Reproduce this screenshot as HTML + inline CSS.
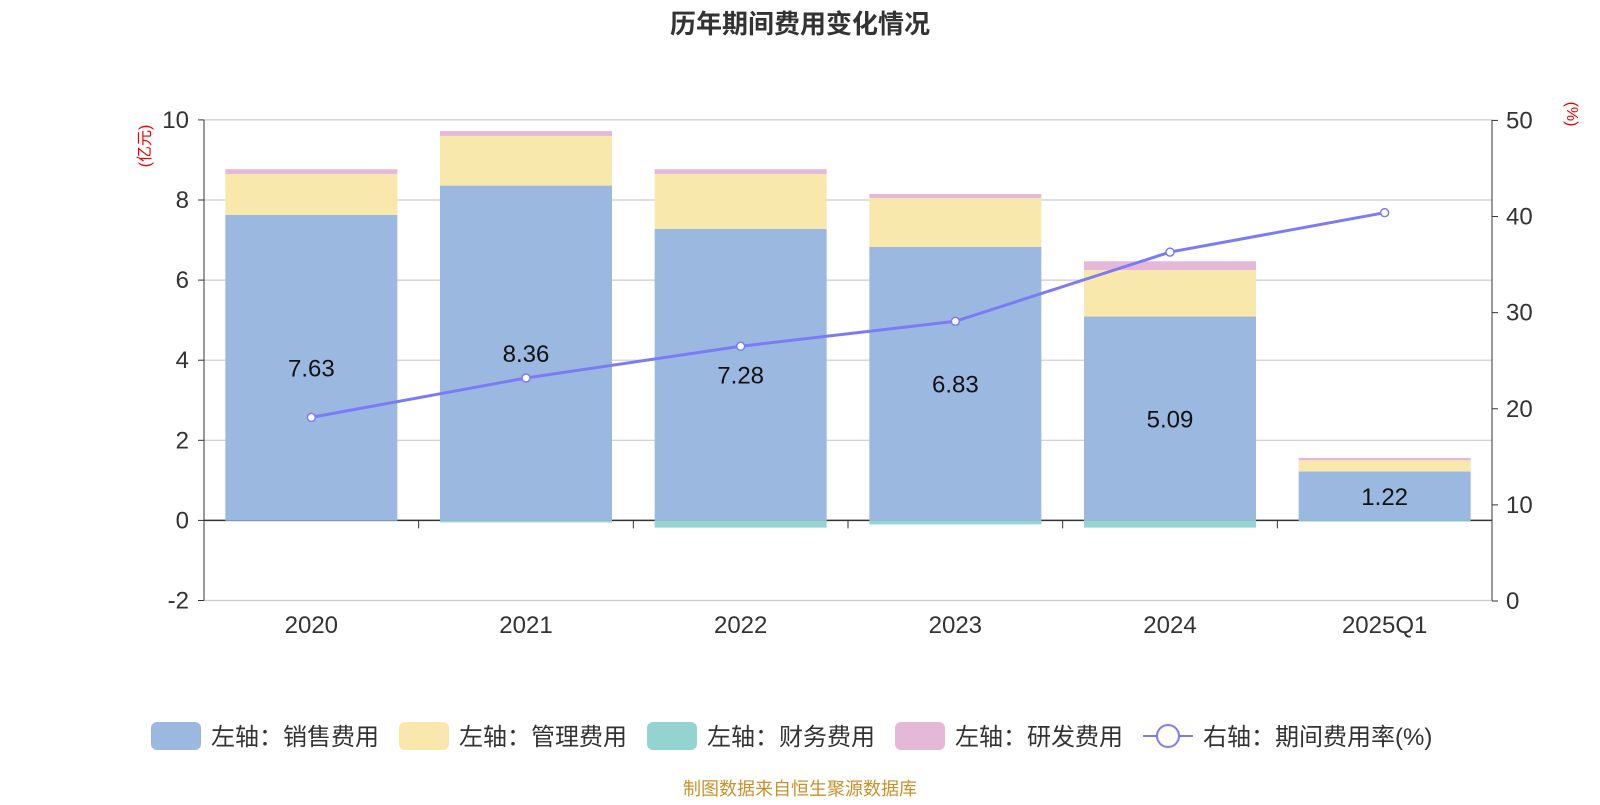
<!DOCTYPE html>
<html><head><meta charset="utf-8"><style>
body{margin:0;background:#fff;font-family:"Liberation Sans","Noto Sans CJK SC",sans-serif;}
svg text{font-family:"Liberation Sans","Noto Sans CJK SC",sans-serif;}
</style></head><body>
<svg id="c" width="1600" height="800" xmlns="http://www.w3.org/2000/svg">
<text x="800" y="33" text-anchor="middle" font-size="26" font-weight="bold" fill="#333">历年期间费用变化情况</text>
<text transform="translate(150,146) rotate(-90)" text-anchor="middle" font-size="16" fill="#e00">(亿元)</text>
<text transform="translate(1567,114) rotate(90)" text-anchor="middle" font-size="16" fill="#e00">(%)</text>
<g id="grid"></g><g id="bars"></g><g id="axes"></g><g id="line"></g><g id="labels"></g>
<g font-size="24" fill="#333">
<rect x="151" y="722" width="50" height="28" rx="6" fill="#9bb8e1"/>
<text x="211" y="745">左轴：销售费用</text>
<rect x="399" y="722" width="50" height="28" rx="6" fill="#f8e8ab"/>
<text x="459" y="745">左轴：管理费用</text>
<rect x="647" y="722" width="50" height="28" rx="6" fill="#93d4d3"/>
<text x="707" y="745">左轴：财务费用</text>
<rect x="895" y="722" width="50" height="28" rx="6" fill="#e6b8d8"/>
<text x="955" y="745">左轴：研发费用</text>
<line x1="1143" y1="736" x2="1193" y2="736" stroke="#7b7bf5" stroke-width="2"/>
<circle cx="1168" cy="736" r="11" fill="#fff" stroke="#7b7bf5" stroke-width="2"/>
<text x="1203" y="745">右轴：期间费用率(%)</text>
</g>
<text x="800" y="795" text-anchor="middle" font-size="18" fill="#c8912a">制图数据来自恒生聚源数据库</text>
</svg>
<script>
const categories=["2020","2021","2022","2023","2024","2025Q1"];
const sales=[7.63,8.36,7.28,6.83,5.09,1.22];
const mgmt=[1.02,1.24,1.37,1.22,1.16,0.28];
const finance=[-0.01,-0.05,-0.18,-0.1,-0.18,-0.03];
const rd=[0.12,0.12,0.12,0.1,0.22,0.06];
const rate=[19.1,23.2,26.5,29.1,36.3,40.4];
const leftTicks=[-2,0,2,4,6,8,10];
const rightTicks=[0,10,20,30,40,50];
const NS="http://www.w3.org/2000/svg";
const X0=204,X1=1492,bw=(X1-X0)/categories.length;
const yL=v=>520.4-v*40.05;
const yR=v=>601-v*9.612;
const xc=i=>X0+bw*(i+0.5);
function mk(p,t,a){const e=document.createElementNS(NS,t);for(const k in a)e.setAttribute(k,a[k]);document.getElementById(p).appendChild(e);return e;}
leftTicks.forEach(t=>{
 const g=mk('grid','line',{x1:X0,x2:X1,y1:yL(t),y2:yL(t),stroke:t===0?'#333':'#ccc','stroke-width':t===0?1.5:1.2});
 
 
 const l=mk('axes','text',{x:189,y:yL(t)+8,'text-anchor':'end','font-size':24,fill:'#333'});l.textContent=t;
 
 
 mk('axes','line',{x1:X0-6,x2:X0,y1:yL(t),y2:yL(t),stroke:'#333'});
});
rightTicks.forEach(t=>{
 const l=mk('axes','text',{x:1506,y:yR(t)+8,'font-size':24,fill:'#333'});l.textContent=t;
 
 
 mk('axes','line',{x1:X1,x2:X1+6,y1:yR(t),y2:yR(t),stroke:'#333'});
});
mk('axes','line',{x1:X0,x2:X0,y1:yL(10),y2:yL(-2),stroke:'#333'});
mk('axes','line',{x1:X1,x2:X1,y1:yL(10),y2:yL(-2),stroke:'#333'});
for(let i=1;i<categories.length;i++)mk('axes','line',{x1:X0+bw*i,x2:X0+bw*i,y1:yL(0),y2:yL(0)+8,stroke:'#333'});
categories.forEach((c,i)=>{
 const l=mk('axes','text',{x:xc(i),y:633,'text-anchor':'middle','font-size':24,fill:'#333'});l.textContent=c;
 
 
 const w=172,x=xc(i)-w/2;
 let base=0;
 [[sales,'#9bb8e1','bar-sales'],[mgmt,'#f8e8ab','bar-mgmt'],[rd,'#e6b8d8','bar-rd']].forEach(([arr,col,n])=>{
  const r=mk('bars','rect',{x:x,y:yL(base+arr[i]),width:w,height:arr[i]*40.05,fill:col});
  
  
  base+=arr[i];
 });
 const f=mk('bars','rect',{x:x,y:yL(0),width:w,height:Math.abs(finance[i])*40.05,fill:'#93d4d3'});
 
 
 const t=mk('labels','text',{x:xc(i),y:yL(sales[i]/2)+9,'text-anchor':'middle','font-size':24,fill:'#111'});t.textContent=sales[i].toFixed(2);
 
 
});
const pl=mk('line','polyline',{points:rate.map((v,i)=>xc(i)+','+yR(v)).join(' '),fill:'none',stroke:'#7b7bf5','stroke-width':3});


rate.forEach((v,i)=>{const c=mk('line','circle',{cx:xc(i),cy:yR(v),r:4,fill:'#fff',stroke:'#7b7bf5','stroke-width':1.5});
 
 });
</script>
</body></html>
